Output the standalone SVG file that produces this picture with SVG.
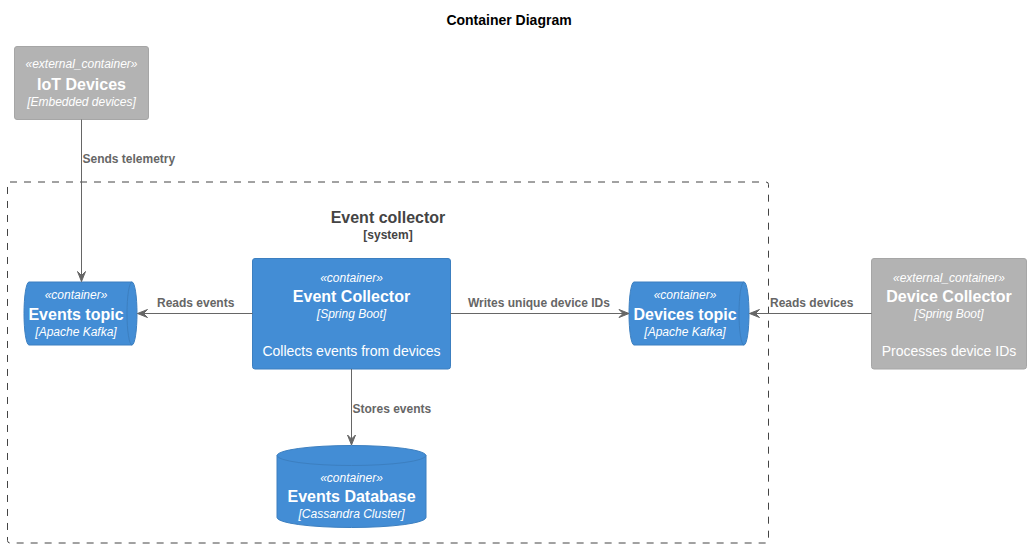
<svg xmlns="http://www.w3.org/2000/svg" width="1031" height="548" viewBox="0 0 1031 548">
<style>
text{font-family:"Liberation Sans",Arial,sans-serif}
.title{font-size:14px;font-weight:bold;fill:#000}
.bnd{fill:none;stroke:#444444;stroke-width:1;stroke-dasharray:7,7}
.bname{font-size:16px;font-weight:bold;fill:#444444}
.btype{font-size:12px;font-weight:bold;fill:#444444}
.int{fill:#438DD5;stroke:#3C7FC0;stroke-width:1}
.ext{fill:#B3B3B3;stroke:#A6A6A6;stroke-width:1}
.inner{fill:none;stroke-width:1}
.st{font-size:12px;font-style:italic;fill:#FFFFFF}
.nm{font-size:16px;font-weight:bold;fill:#FFFFFF}
.tech{font-size:12px;font-style:italic;fill:#FFFFFF}
.desc{font-size:14px;fill:#FFFFFF}
.c{text-anchor:middle}
.rel{fill:none;stroke:#666666;stroke-width:1}
.rl{font-size:12px;font-weight:bold;fill:#666666}
</style>
<defs>
<marker id="arr" viewBox="-11 -5 12 10" refX="0" refY="0" markerWidth="12" markerHeight="10" markerUnits="userSpaceOnUse" orient="auto">
<path d="M0,0 L-10,-4 L-6,0 L-10,4 Z" fill="#666666" stroke="#666666" stroke-width="1"/>
</marker>
</defs>
<rect width="1031" height="548" fill="#FFFFFF"/>
<text class="title c" x="509" y="25">Container Diagram</text>

<g id="boundary">
<rect class="bnd" x="7.5" y="182" width="761" height="361" rx="2.5"/>
<text class="bname c" x="388" y="222.5">Event collector</text>
<text class="btype c" x="388" y="239">[system]</text>
</g>

<g id="iot_devices">
<rect class="ext" x="14.5" y="46.5" width="134" height="73" rx="2.5"/>
<text class="st c" x="81.5" y="68">«external_container»</text>
<text class="nm c" x="81.5" y="90">IoT Devices</text>
<text class="tech c" x="81.5" y="106">[Embedded devices]</text>
</g>

<g id="events_topic">
<path class="int" d="M29,282 H132 A5,31.5 0 0 1 132,345 H29 A5,31.5 0 0 1 29,282 Z"/>
<path class="inner" stroke="#3C7FC0" d="M132,282 A5,31.5 0 0 0 132,345"/>
<text class="st c" x="76" y="299.3">«container»</text>
<text class="nm c" x="76" y="320">Events topic</text>
<text class="tech c" x="76" y="335.7">[Apache Kafka]</text>
</g>

<g id="event_collector">
<rect class="int" x="252.5" y="258.5" width="198" height="110.5" rx="2.5"/>
<text class="st c" x="351.5" y="281.7">«container»</text>
<text class="nm c" x="351.5" y="302">Event Collector</text>
<text class="tech c" x="351.5" y="318">[Spring Boot]</text>
<text class="desc c" x="351.5" y="356">Collects events from devices</text>
</g>

<g id="devices_topic">
<path class="int" d="M634,282 H744 A5,31.5 0 0 1 744,345 H634 A5,31.5 0 0 1 634,282 Z"/>
<path class="inner" stroke="#3C7FC0" d="M744,282 A5,31.5 0 0 0 744,345"/>
<text class="st c" x="685" y="299.3">«container»</text>
<text class="nm c" x="685" y="320">Devices topic</text>
<text class="tech c" x="685" y="335.7">[Apache Kafka]</text>
</g>

<g id="device_collector">
<rect class="ext" x="871.5" y="258.5" width="155" height="110.5" rx="2.5"/>
<text class="st c" x="949" y="281.7">«external_container»</text>
<text class="nm c" x="949" y="302">Device Collector</text>
<text class="tech c" x="949" y="318">[Spring Boot]</text>
<text class="desc c" x="949" y="356">Processes device IDs</text>
</g>

<g id="events_database">
<path class="int" d="M277,455.5 A74.5,10 0 0 1 426,455.5 V517.5 A74.5,10 0 0 1 277,517.5 Z"/>
<path class="inner" stroke="#3C7FC0" d="M277,455.5 A74.5,10 0 0 0 426,455.5"/>
<text class="st c" x="351.5" y="481.7">«container»</text>
<text class="nm c" x="351.5" y="501.7">Events Database</text>
<text class="tech c" x="351.5" y="518">[Cassandra Cluster]</text>
</g>

<g id="connectors">
<path class="rel" d="M81.5,119.5 V281.5" marker-end="url(#arr)"/>
<text class="rl" x="82.5" y="163">Sends telemetry</text>
<path class="rel" d="M252.5,313.5 H137.5" marker-end="url(#arr)"/>
<text class="rl" x="157" y="307.3">Reads events</text>
<path class="rel" d="M450.5,313.5 H629" marker-end="url(#arr)"/>
<text class="rl" x="468" y="307.3">Writes unique device IDs</text>
<path class="rel" d="M871.5,313.5 H749.5" marker-end="url(#arr)"/>
<text class="rl" x="770" y="307.3">Reads devices</text>
<path class="rel" d="M351.5,369 V445" marker-end="url(#arr)"/>
<text class="rl" x="352.5" y="413">Stores events</text>
</g>
</svg>
